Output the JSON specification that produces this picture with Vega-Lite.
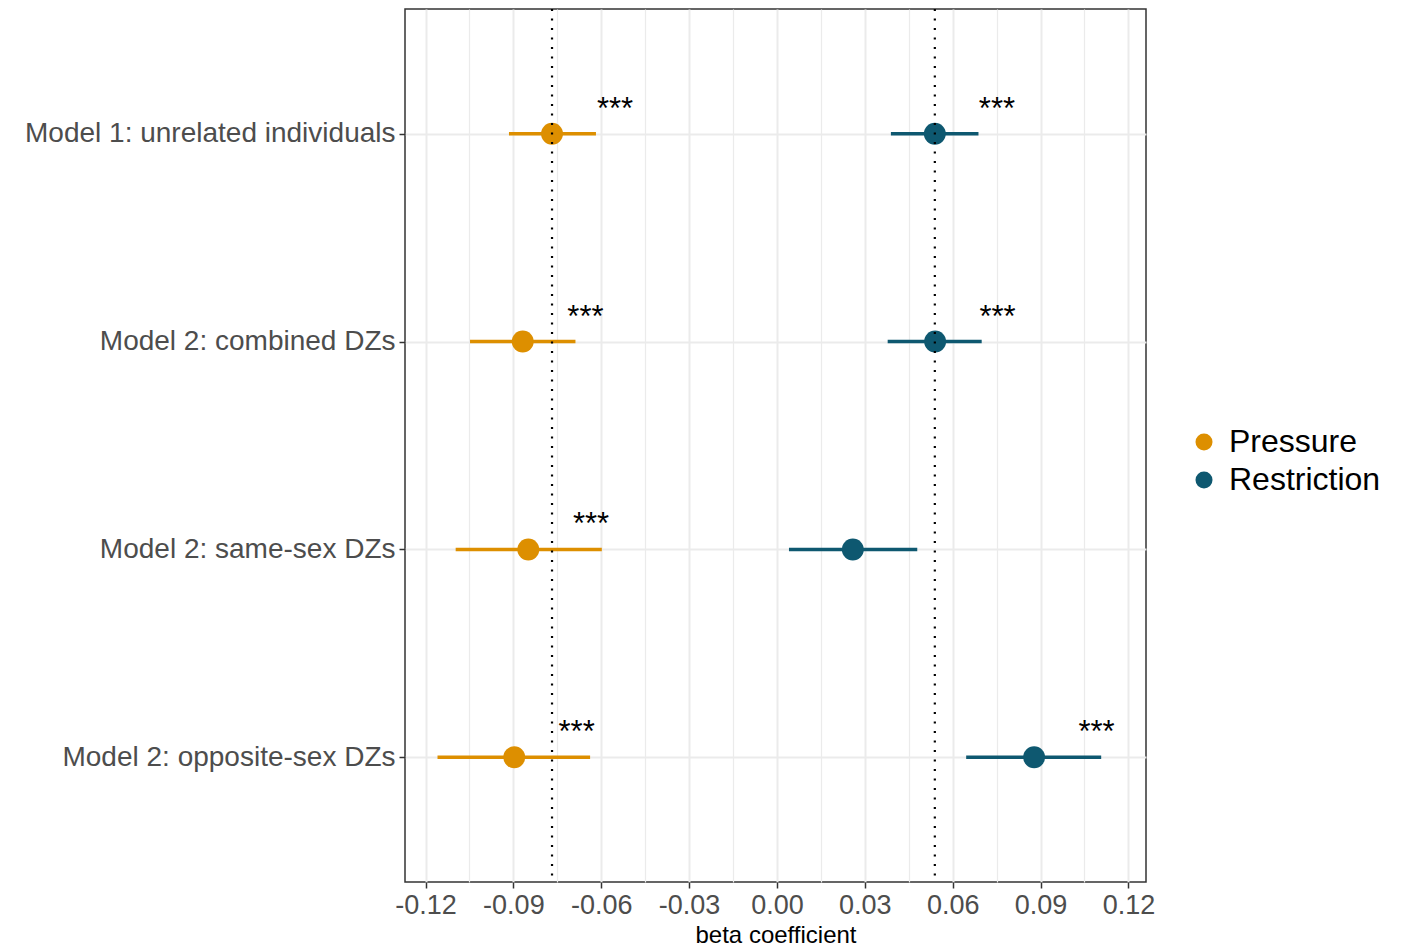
{
  "$schema": "https://vega.github.io/schema/vega-lite/v6.json",
  "width": 741,
  "height": 873,
  "padding": {"left": 24, "top": 7, "right": 5, "bottom": 5},
  "config": {
    "font": "Liberation Sans",
    "view": {"stroke": "#333333", "strokeWidth": 1.5},
    "axis": {"domain": false}
  },
  "datasets": {
    "est": [
      {"model": "Model 1: unrelated individuals", "group": "Pressure", "beta": -0.0768, "lo": -0.0915, "hi": -0.0618, "star_x": -0.0553, "stars": "***"},
      {"model": "Model 1: unrelated individuals", "group": "Restriction", "beta": 0.0539, "lo": 0.0389, "hi": 0.0688, "star_x": 0.0751, "stars": "***"},
      {"model": "Model 2: combined DZs", "group": "Pressure", "beta": -0.0868, "lo": -0.1048, "hi": -0.0688, "star_x": -0.0654, "stars": "***"},
      {"model": "Model 2: combined DZs", "group": "Restriction", "beta": 0.054, "lo": 0.0378, "hi": 0.0699, "star_x": 0.0753, "stars": "***"},
      {"model": "Model 2: same-sex DZs", "group": "Pressure", "beta": -0.0849, "lo": -0.1097, "hi": -0.0598, "star_x": -0.0635, "stars": "***"},
      {"model": "Model 2: same-sex DZs", "group": "Restriction", "beta": 0.0259, "lo": 0.0041, "hi": 0.0479, "star_x": null, "stars": null},
      {"model": "Model 2: opposite-sex DZs", "group": "Pressure", "beta": -0.0897, "lo": -0.1159, "hi": -0.0638, "star_x": -0.0684, "stars": "***"},
      {"model": "Model 2: opposite-sex DZs", "group": "Restriction", "beta": 0.0878, "lo": 0.0646, "hi": 0.1107, "star_x": 0.1091, "stars": "***"}
    ],
    "refs": [
      {"ref": -0.0768},
      {"ref": 0.0539}
    ]
  },
  "layer": [
    {
      "data": {"name": "est"},
      "mark": {"type": "rule", "strokeWidth": 3.5},
      "encoding": {
        "y": {
          "field": "model", "type": "nominal",
          "sort": ["Model 1: unrelated individuals", "Model 2: combined DZs", "Model 2: same-sex DZs", "Model 2: opposite-sex DZs"],
          "scale": {"type": "point", "padding": 0.6, "domain": ["Model 1: unrelated individuals", "Model 2: combined DZs", "Model 2: same-sex DZs", "Model 2: opposite-sex DZs"]},
          "axis": {
            "title": null,
            "labelFontSize": 28,
            "labelColor": "#4D4D4D",
            "labelPadding": 4,
            "labelLimit": 1000,
            "tickSize": 6,
            "tickColor": "#333333",
            "tickWidth": 1.5,
            "grid": true,
            "gridColor": "#EBEBEB",
            "gridWidth": 2
          }
        },
        "x": {
          "field": "lo", "type": "quantitative",
          "scale": {"domain": [-0.127, 0.126], "nice": false, "zero": false},
          "axis": {
            "title": "beta coefficient",
            "titleFontSize": 24,
            "titleFontWeight": "normal",
            "titleColor": "#000000",
            "titlePadding": 5,
            "values": [-0.12, -0.105, -0.09, -0.075, -0.06, -0.045, -0.03, -0.015, 0, 0.015, 0.03, 0.045, 0.06, 0.075, 0.09, 0.105, 0.12],
            "labelExpr": "round(datum.value*1000) % 30 == 0 ? replace(format(datum.value, '.2f'), '\u2212', '-') : ''",
            "labelFontSize": 27,
            "labelColor": "#4D4D4D",
            "labelPadding": 4,
            "labelFlush": false,
            "labelOverlap": false,
            "tickSize": 6,
            "tickColor": "#333333",
            "tickWidth": 1.5,
            "tickOpacity": {"condition": {"test": "round(datum.value*1000) % 30 != 0", "value": 0}, "value": 1},
            "grid": true,
            "gridColor": "#EBEBEB",
            "gridWidth": {"condition": {"test": "round(datum.value*1000) % 30 != 0", "value": 1.2}, "value": 2}
          }
        },
        "x2": {"field": "hi"},
        "color": {
          "field": "group", "type": "nominal",
          "scale": {"domain": ["Pressure", "Restriction"], "range": ["#DD8F00", "#0E5870"]},
          "legend": {
            "title": null,
            "orient": "none",
            "legendX": 783,
            "legendY": 417,
            "labelFontSize": 32,
            "labelColor": "#000000",
            "symbolType": "circle",
            "symbolSize": 290,
            "symbolStrokeWidth": 0,
            "rowPadding": 6,
            "labelOffset": 9
          }
        }
      }
    },
    {
      "data": {"name": "est"},
      "mark": {"type": "point", "filled": true, "size": 480, "opacity": 1, "shape": "circle"},
      "encoding": {
        "y": {"field": "model", "type": "nominal"},
        "x": {"field": "beta", "type": "quantitative"},
        "color": {"field": "group", "type": "nominal"}
      }
    },
    {
      "data": {"name": "refs"},
      "mark": {"type": "rule", "color": "#000000", "strokeWidth": 2.2, "strokeDash": [2, 7.5]},
      "encoding": {
        "x": {"field": "ref", "type": "quantitative"}
      }
    },
    {
      "data": {"name": "est"},
      "transform": [{"filter": "datum.stars != null"}],
      "mark": {"type": "text", "fontSize": 31, "baseline": "alphabetic", "align": "center", "dy": -15, "color": "#000000"},
      "encoding": {
        "y": {"field": "model", "type": "nominal"},
        "x": {"field": "star_x", "type": "quantitative"},
        "text": {"field": "stars"}
      }
    }
  ]
}
